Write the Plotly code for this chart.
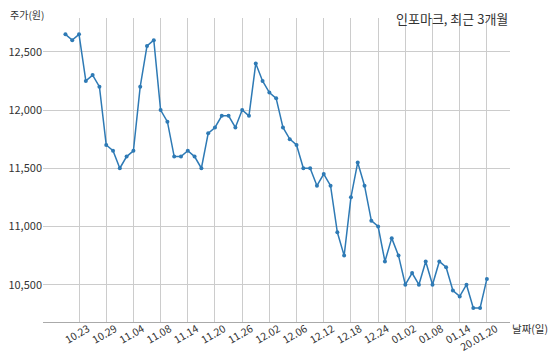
import plotly.graph_objects as go

dates = ["10.21", "10.22", "10.23", "10.24", "10.25", "10.28", "10.29", "10.30", "10.31", "11.01",
         "11.04", "11.05", "11.06", "11.07", "11.08", "11.11", "11.12", "11.13", "11.14", "11.15",
         "11.18", "11.19", "11.20", "11.21", "11.22", "11.25", "11.26", "11.27", "11.28", "11.29",
         "12.02", "12.03", "12.04", "12.05", "12.06", "12.09", "12.10", "12.11", "12.12", "12.13",
         "12.16", "12.17", "12.18", "12.19", "12.20", "12.23", "12.24", "12.26", "12.27", "12.30",
         "01.02", "01.03", "01.06", "01.07", "01.08", "01.09", "01.10", "01.13", "01.14", "01.15",
         "01.16", "01.17", "01.20"]

prices = [12650, 12600, 12650, 12250, 12300, 12200, 11700, 11650, 11500, 11600,
          11650, 12200, 12550, 12600, 12000, 11900, 11600, 11600, 11650, 11600,
          11500, 11800, 11850, 11950, 11950, 11850, 12000, 11950, 12400, 12250,
          12150, 12100, 11850, 11750, 11700, 11500, 11500, 11350, 11450, 11350,
          10950, 10750, 11250, 11550, 11350, 11050, 11000, 10700, 10900, 10750,
          10500, 10600, 10500, 10700, 10500, 10700, 10650, 10450, 10400, 10500,
          10300, 10300, 10550]

tick_dates = ["10.23", "10.29", "11.04", "11.08", "11.14", "11.20", "11.26", "12.02",
              "12.06", "12.12", "12.18", "12.24", "01.02", "01.08", "01.14", "01.20"]
tick_labels = ["10.23", "10.29", "11.04", "11.08", "11.14", "11.20", "11.26", "12.02",
               "12.06", "12.12", "12.18", "12.24", "01.02", "01.08", "01.14", "20.01.20"]
y_ticks = [10500, 11000, 11500, 12000, 12500]
y_tick_labels = ["10,500", "11,000", "11,500", "12,000", "12,500"]

FONT = "Noto Sans CJK KR, Noto Sans, sans-serif"

fig = go.Figure()
fig.add_trace(go.Scatter(
    x=dates, y=prices, mode="lines+markers",
    line=dict(color="#2e7ab5", width=1.5),
    marker=dict(color="#2e7ab5", size=4),
    showlegend=False,
))

fig.update_layout(
    width=550, height=356,
    margin=dict(l=43, r=40, t=18, b=34),
    paper_bgcolor="white", plot_bgcolor="white",
    font=dict(family=FONT, size=11, color="#333333"),
    xaxis=dict(
        type="category",
        categoryorder="array", categoryarray=dates,
        range=[-3.3, 65.4],
        tickmode="array", tickvals=tick_dates, ticktext=tick_labels,
        tickangle=-30, automargin=False,
        ticklabelshift=9, ticklabelstandoff=-4,
        showgrid=True, gridcolor="#cccccc", gridwidth=1,
        showline=True, linecolor="#aaaaaa", linewidth=1,
        ticks="", zeroline=False,
        tickfont=dict(size=10.5, color="#333333"),
    ),
    yaxis=dict(
        range=[10180, 12790], automargin=False,
        tickmode="array", tickvals=y_ticks, ticktext=y_tick_labels,
        showgrid=True, gridcolor="#cccccc", gridwidth=1,
        showline=False, ticks="", zeroline=False,
        tickfont=dict(size=11, color="#333333"),
    ),
    annotations=[
        dict(text="인포마크, 최근 3개월", xref="paper", yref="paper",
             x=1.0, y=1.0, xanchor="right", yanchor="bottom", yshift=-12,
             showarrow=False, font=dict(size=13, color="#333333", family=FONT)),
        dict(text="주가(원)", xref="paper", yref="paper",
             x=0, y=1.0, xanchor="right", yanchor="middle", xshift=3, yshift=4,
             showarrow=False, font=dict(size=10, color="#333333", family=FONT)),
        dict(text="날짜(일)", xref="paper", yref="paper",
             x=1.0, y=0, xanchor="left", yanchor="middle", xshift=0, yshift=-6,
             showarrow=False, font=dict(size=10.5, color="#333333", family=FONT)),
    ],
)

fig.write_html("out.html", config={"displayModeBar": False},
               post_script="document.body.style.margin='0';")
